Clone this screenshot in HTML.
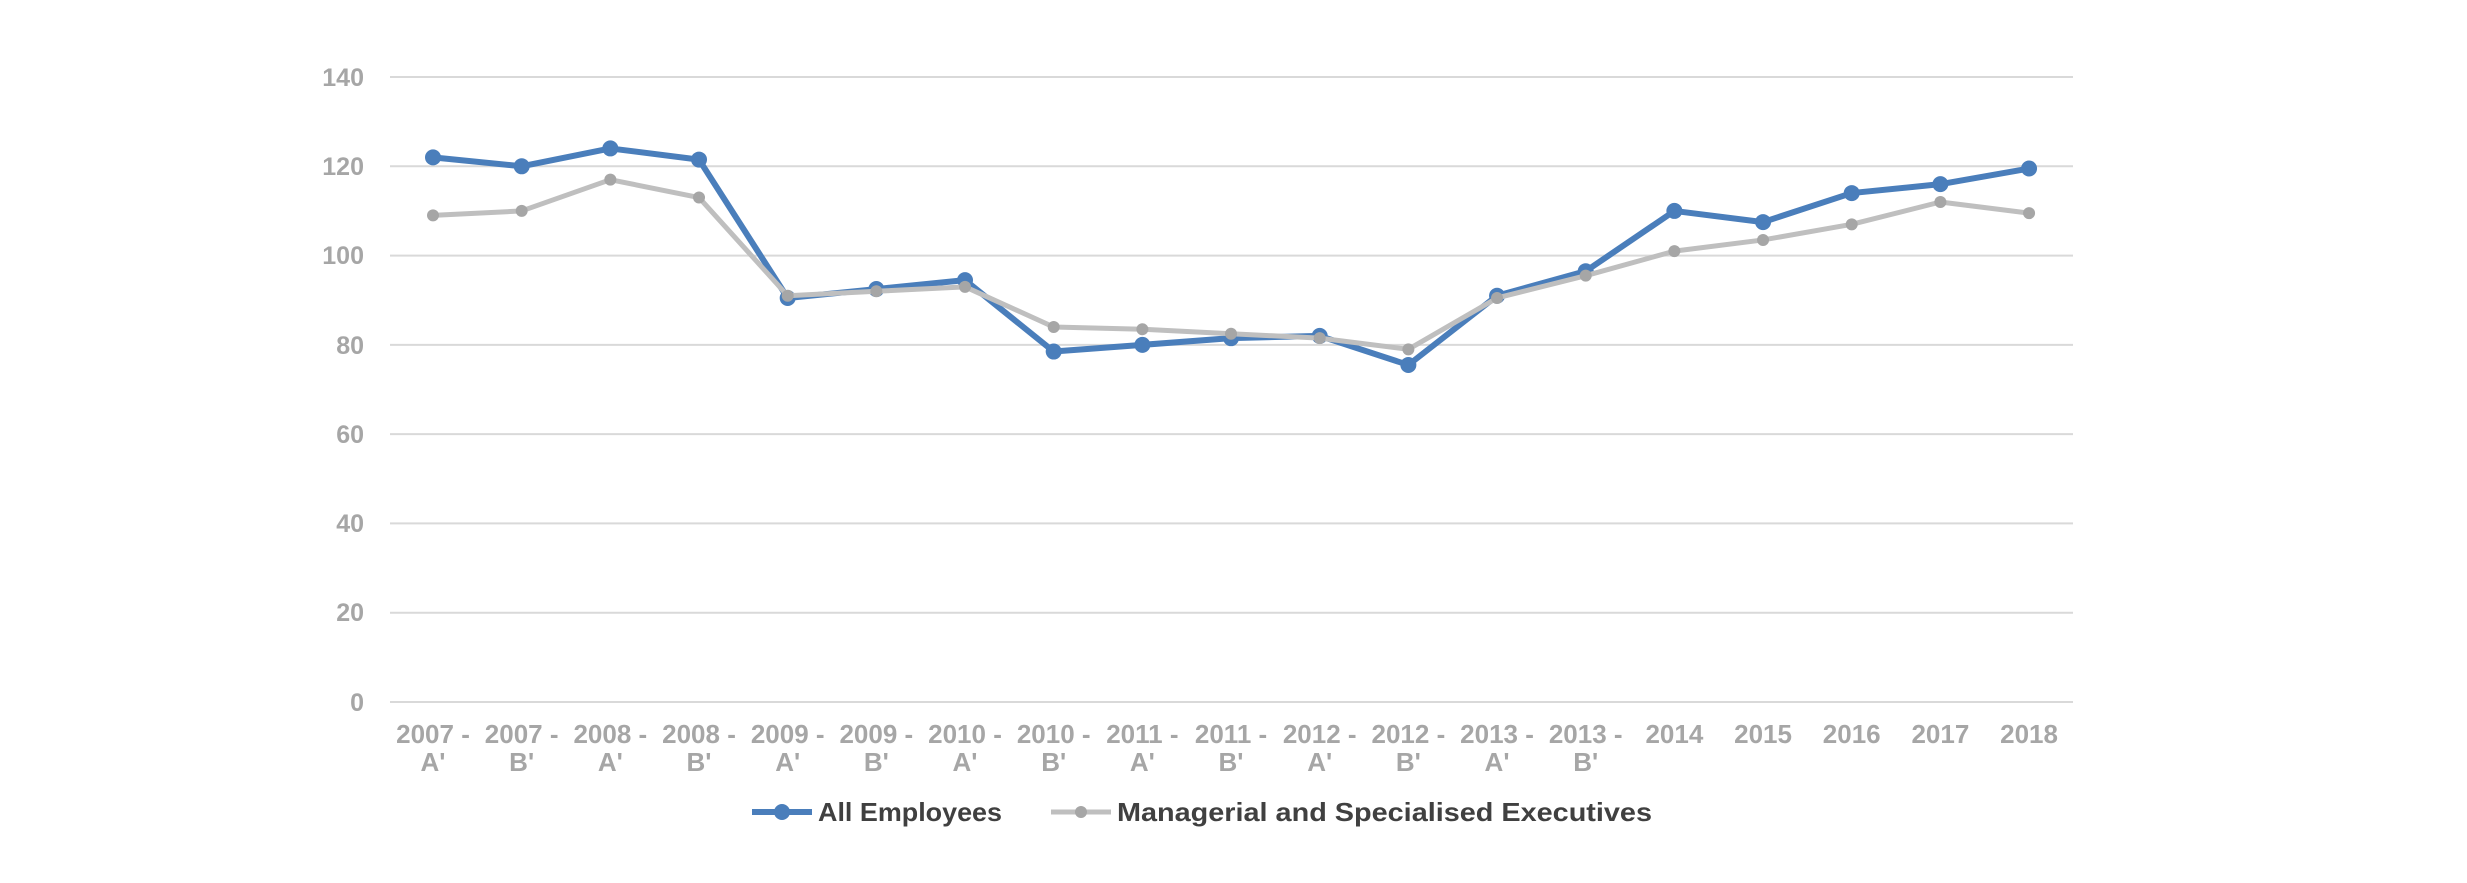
<!DOCTYPE html>
<html><head><meta charset="utf-8"><style>html,body{margin:0;padding:0;background:#fff}</style></head>
<body>
<svg width="2467" height="878" viewBox="0 0 2467 878" xmlns="http://www.w3.org/2000/svg" font-family="Liberation Sans, sans-serif">
<g stroke="#d9d9d9" stroke-width="2">
<line x1="390" x2="2073" y1="77" y2="77"/><line x1="390" x2="2073" y1="166.3" y2="166.3"/>
<line x1="390" x2="2073" y1="255.6" y2="255.6"/><line x1="390" x2="2073" y1="344.9" y2="344.9"/>
<line x1="390" x2="2073" y1="434.1" y2="434.1"/><line x1="390" x2="2073" y1="523.4" y2="523.4"/>
<line x1="390" x2="2073" y1="612.7" y2="612.7"/><line x1="390" x2="2073" y1="702" y2="702"/>
</g>
<g fill="#a6a6a6" font-size="25" font-weight="bold" text-anchor="end">
<text x="364" y="86">140</text><text x="364" y="175">120</text><text x="364" y="264">100</text>
<text x="364" y="354">80</text><text x="364" y="443">60</text><text x="364" y="532">40</text>
<text x="364" y="621">20</text><text x="364" y="711">0</text>
</g>
<g id="x" fill="#a6a6a6" font-size="26" font-weight="bold" text-anchor="middle"></g>
<g id="s"></g>
<g font-size="26" font-weight="bold" fill="#404040">
<line x1="752" x2="812" y1="812" y2="812" stroke="#4a7ebb" stroke-width="6"/><circle cx="782" cy="812" r="8" fill="#4a7ebb"/>
<text x="818" y="821" textLength="184" lengthAdjust="spacingAndGlyphs">All Employees</text>
<line x1="1051" x2="1111" y1="812" y2="812" stroke="#bfbfbf" stroke-width="5"/><circle cx="1081" cy="812" r="6" fill="#a6a6a6"/>
<text x="1117" y="821" textLength="535" lengthAdjust="spacingAndGlyphs">Managerial and Specialised Executives</text>
</g>
</svg>
<script>
var ns="http://www.w3.org/2000/svg";
var labs=["2007 -|A'","2007 -|B'","2008 -|A'","2008 -|B'","2009 -|A'","2009 -|B'","2010 -|A'","2010 -|B'","2011 -|A'","2011 -|B'","2012 -|A'","2012 -|B'","2013 -|A'","2013 -|B'","2014","2015","2016","2017","2018"];
var blue=[122,120,124,121.5,90.5,92.5,94.5,78.5,80,81.5,82,75.5,91,96.5,110,107.5,114,116,119.5];
var grey=[109,110,117,113,91,92,93,84,83.5,82.5,81.5,79,90.5,95.5,101,103.5,107,112,109.5];
function X(i){return 433+i*88.67} function Y(v){return 702-v*625/140}
var gx=document.getElementById("x");
labs.forEach(function(l,i){var p=l.split("|");p.forEach(function(t,j){var e=document.createElementNS(ns,"text");e.setAttribute("x",X(i));e.setAttribute("y",743+j*28);e.textContent=t;gx.appendChild(e);});});
var gs=document.getElementById("s");
function series(d,col,mcol,w,r){var pts=d.map(function(v,i){return X(i)+","+Y(v)}).join(" ");
var pl=document.createElementNS(ns,"polyline");pl.setAttribute("points",pts);pl.setAttribute("fill","none");pl.setAttribute("stroke",col);pl.setAttribute("stroke-width",w);pl.setAttribute("stroke-linejoin","round");gs.appendChild(pl);
d.forEach(function(v,i){var c=document.createElementNS(ns,"circle");c.setAttribute("cx",X(i));c.setAttribute("cy",Y(v));c.setAttribute("r",r);c.setAttribute("fill",mcol);gs.appendChild(c);});}
series(blue,"#4a7ebb","#4a7ebb",6,8);
series(grey,"#bfbfbf","#a6a6a6",5,6);
</script>
</body></html>
